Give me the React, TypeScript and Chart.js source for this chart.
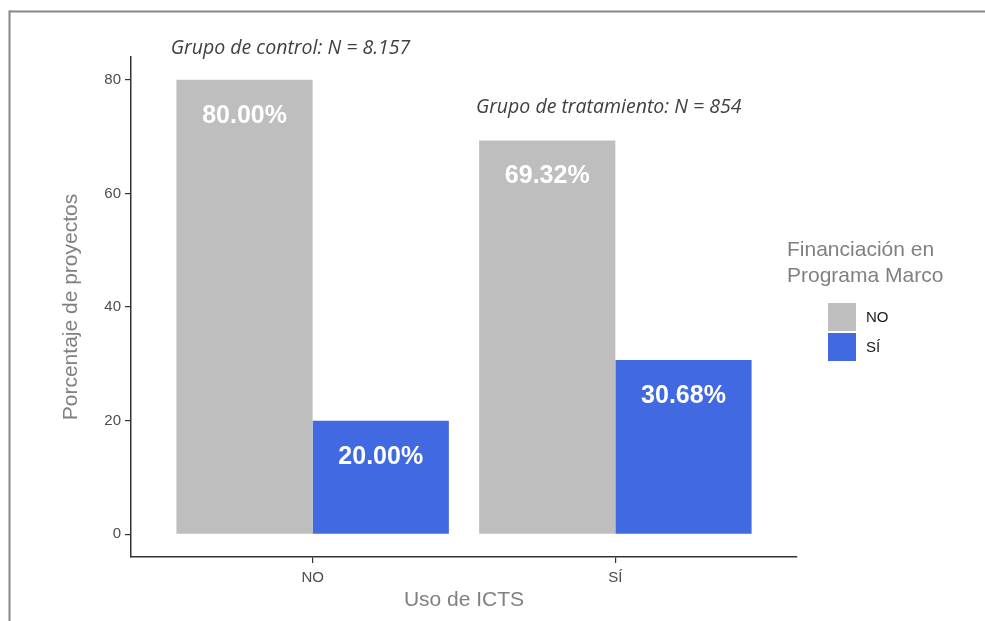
import React, { useEffect, useRef } from "react";
import { Chart, registerables } from "chart.js";

Chart.register(...registerables);

const categories = ["NO", "SÍ"];
const categoryIndex = [0, 1];
const seriesNames = ["NO", "SÍ"];
const seriesNo = [80.0, 69.32];
const seriesSi = [20.0, 30.68];
const seriesColors = ["#BEBEBE", "#4169E1"];
const yTicks = [0, 20, 40, 60, 80];
const annotationTexts = ["Grupo de control: N = 8.157", "Grupo de tratamiento: N = 854"];
const annotationX = [-0.073, 0.978];
const annotationY = [85.5, 75.2];
const legendTitle = ["Financiación en", "Programa Marco"];

const SANS = "'Liberation Sans', Arial, sans-serif";

const overlayPlugin = {
  id: "overlay",
  beforeDraw(chart: any) {
    const ctx = chart.ctx;
    ctx.save();
    ctx.fillStyle = "#ffffff";
    ctx.fillRect(0, 0, chart.width, chart.height);
    ctx.fillStyle = "#878787";
    ctx.fillRect(9, 10.5, chart.width - 9, 2);
    ctx.fillRect(8.5, 10.5, 2, chart.height - 10);
    ctx.restore();
  },
  afterDatasetsDraw(chart: any) {
    const ctx = chart.ctx;
    ctx.save();
    ctx.fillStyle = "#ffffff";
    ctx.font = `bold 25px ${SANS}`;
    ctx.textAlign = "center";
    ctx.textBaseline = "middle";
    chart.data.datasets.forEach((ds: any, di: number) => {
      const meta = chart.getDatasetMeta(di);
      meta.data.forEach((el: any, i: number) => {
        const v = ds.data[i].y as number;
        ctx.fillText(v.toFixed(2) + "%", el.x, el.y + 36);
      });
    });
    const xs = chart.scales.x;
    const ys = chart.scales.y;
    ctx.fillStyle = "#404040";
    ctx.font = `italic 19.5px 'Open Sans', sans-serif`;
    ctx.textAlign = "center";
    annotationTexts.forEach((t, i) => {
      ctx.fillText(t, xs.getPixelForValue(annotationX[i]), ys.getPixelForValue(annotationY[i]));
    });
    const lx = chart.chartArea.right - 10;
    ctx.fillStyle = "#808080";
    ctx.font = `21px ${SANS}`;
    ctx.textAlign = "left";
    ctx.textBaseline = "alphabetic";
    legendTitle.forEach((t, i) => {
      ctx.fillText(t, lx, 256 + i * 26);
    });
    ctx.font = `15px ${SANS}`;
    ctx.textBaseline = "middle";
    seriesNames.forEach((n, i) => {
      const ky = 303 + i * 30;
      ctx.fillStyle = seriesColors[i];
      ctx.fillRect(lx + 41, ky, 28, 28);
      ctx.fillStyle = "#1a1a1a";
      ctx.fillText(n, lx + 79, ky + 15);
    });
    ctx.restore();
  },
};

export default function App() {
  const ref = useRef<HTMLCanvasElement | null>(null);
  useEffect(() => {
    document.body.style.margin = "0";
    const canvas = ref.current;
    if (!canvas) return;
    const chart = new Chart(canvas, {
      type: "bar",
      data: {
        datasets: [
          {
            label: seriesNames[0],
            data: categoryIndex.map((x, i) => ({ x, y: seriesNo[i] })),
            backgroundColor: seriesColors[0],
          },
          {
            label: seriesNames[1],
            data: categoryIndex.map((x, i) => ({ x, y: seriesSi[i] })),
            backgroundColor: seriesColors[1],
          },
        ],
      },
      options: {
        animation: false,
        responsive: false,
        maintainAspectRatio: false,
        devicePixelRatio: 1,
        layout: { padding: { left: 0, right: 188, top: 57, bottom: 0 } },
        datasets: { bar: { categoryPercentage: 0.9, barPercentage: 1.0 } },
        plugins: { legend: { display: false }, tooltip: { enabled: false } },
        scales: {
          x: {
            type: "linear",
            min: -0.6,
            max: 1.6,
            offset: false,
            afterBuildTicks: (s: any) => {
              s.ticks = categoryIndex.map((v) => ({ value: v }));
            },
            afterFit: (s: any) => {
              s.height = 64;
            },
            ticks: {
              callback: (v: any) => categories[Math.round(Number(v))] ?? "",
              color: "#4d4d4d",
              font: { family: SANS, size: 15 },
              padding: 6,
              maxRotation: 0,
              autoSkip: false,
            },
            grid: { offset: false, drawOnChartArea: false, drawTicks: true, tickLength: 6, color: "#333333", lineWidth: 1.2 },
            border: { display: true, color: "#333333", width: 1.5 },
            title: {
              display: true,
              text: "Uso de ICTS",
              color: "#808080",
              font: { family: SANS, size: 21 },
              padding: { top: 0, bottom: 8 },
            },
          },
          y: {
            type: "linear",
            min: -4,
            max: 84,
            afterBuildTicks: (s: any) => {
              s.ticks = yTicks.map((v) => ({ value: v }));
            },
            afterFit: (s: any) => {
              s.width = 131;
            },
            ticks: {
              color: "#4d4d4d",
              font: { family: SANS, size: 15 },
              padding: 4,
            },
            grid: { drawOnChartArea: false, drawTicks: true, tickLength: 6, color: "#333333", lineWidth: 1.2 },
            border: { display: true, color: "#333333", width: 1.5 },
            title: {
              display: true,
              text: "Porcentaje de proyectos",
              color: "#808080",
              font: { family: SANS, size: 21 },
              padding: { top: 59, bottom: 0 },
            },
          },
        },
      },
      plugins: [overlayPlugin],
    } as any);
    return () => chart.destroy();
  }, []);
  return (
    <div style={{ width: 985, height: 621 }}>
      <canvas ref={ref} width={985} height={621} style={{ display: "block" }} />
    </div>
  );
}
